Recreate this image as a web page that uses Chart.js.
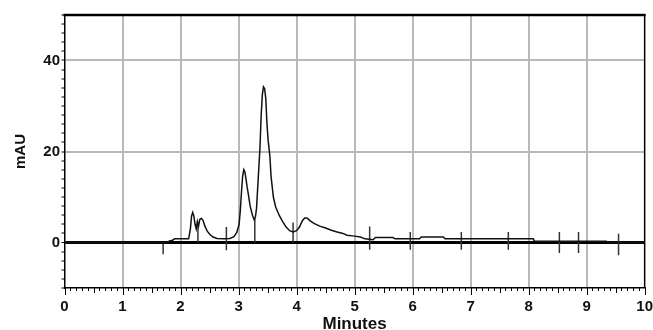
<!DOCTYPE html>
<html>
<head>
<meta charset="utf-8">
<script src="https://cdn.jsdelivr.net/npm/chart.js@4/dist/chart.umd.min.js"></script>
<style>
  body { margin: 0; background: #fff; }
  #wrap { width: 653px; height: 330px; position: relative; }
</style>
</head>
<body>
<div id="wrap"><canvas id="chart"></canvas></div>
<script>
// Chromatogram trace (minutes, mAU)
const traceX = [0, 1.78, 1.80, 1.86, 1.90, 2.14, 2.17, 2.19, 2.21, 2.23, 2.25, 2.27, 2.29, 2.31, 2.33, 2.36, 2.39, 2.42, 2.46, 2.51,
  2.56, 2.63, 2.75, 2.85, 2.92, 2.97, 3.01, 3.03, 3.05, 3.07, 3.09, 3.11, 3.13, 3.15, 3.17, 3.20, 3.24, 3.27, 3.29, 3.31,
  3.33, 3.35, 3.37, 3.39, 3.41, 3.43, 3.45, 3.47, 3.49, 3.51, 3.54, 3.56, 3.60, 3.64, 3.70, 3.76, 3.82, 3.88, 3.94, 4.00,
  4.05, 4.10, 4.14, 4.18, 4.23, 4.30, 4.40, 4.50, 4.60, 4.70, 4.80, 4.87, 5.00, 5.10, 5.18, 5.32, 5.36, 5.66, 5.70, 6.12,
  6.15, 6.53, 6.56, 8.08, 8.10, 9.34, 9.36, 10];
const traceY = [0, 0, 0.3, 0.5, 0.8, 0.8, 3.0, 5.8, 6.6, 5.8, 4.0, 3.0, 4.6, 3.6, 5.0, 5.3, 4.8, 3.6, 2.5, 1.7,
  1.2, 0.9, 0.8, 0.9, 1.3, 2.2, 4.0, 7.0, 11.0, 14.5, 16.0, 15.5, 13.8, 12.0, 10.5, 8.0, 6.0, 5.0, 5.6, 7.5,
  12.0, 16.5, 21.0, 28.0, 32.5, 34.2, 33.8, 31.5, 26.0, 22.5, 19.0, 14.6, 10.0, 7.8, 6.0, 4.6, 3.4, 2.6, 2.3, 2.6,
  3.4, 4.8, 5.4, 5.4, 4.8, 4.2, 3.6, 3.2, 2.7, 2.3, 2.0, 1.6, 1.4, 1.2, 0.8, 0.6, 1.1, 1.1, 0.8, 0.8,
  1.2, 1.2, 0.8, 0.8, 0.3, 0.3, 0, 0];

// integration marks
const markerX = [1.70, 2.30, 2.79, 3.28, 3.94, 5.26, 5.96, 6.84, 7.65, 8.53, 8.86, 9.55];
const markerLow = [-2.6, 0, -1.7, 0, 0, -1.6, -1.6, -1.6, -1.6, -2.3, -2.3, -2.8];
const markerHigh = [-0.3, 3.6, 3.4, 5.2, 4.4, 3.5, 2.3, 2.3, 2.3, 2.3, 2.3, 1.9];

// axes
const xMin = 0, xMax = 10;
const yMin = -10, yMax = 50;
const yLabels = [0, 20, 40];

const tracePoints = traceX.map((x, i) => ({ x: x, y: traceY[i] }));
const markerPoints = [];
markerX.forEach((x, i) => {
  markerPoints.push({ x: x, y: markerLow[i] });
  markerPoints.push({ x: x, y: markerHigh[i] });
  markerPoints.push({ x: x, y: null });
});

const GRID = "#b9b9b9";

// x minor ticks + frame (top and right edges)
const extrasPlugin = {
  id: "extras",
  afterDraw(chart) {
    const ctx = chart.ctx;
    const area = chart.chartArea;
    const xs = chart.scales.x;
    ctx.save();
    ctx.strokeStyle = "#000";
    ctx.lineWidth = 1;
    for (let i = 0; i <= 100; i++) {
      const px = Math.round(xs.getPixelForValue(i / 10)) + 0.5;
      const len = i % 10 === 0 ? 7 : (i % 5 === 0 ? 5 : 3);
      ctx.beginPath();
      ctx.moveTo(px, area.bottom);
      ctx.lineTo(px, area.bottom + len);
      ctx.stroke();
    }
    ctx.lineWidth = 2.5;
    ctx.beginPath();
    ctx.moveTo(area.left - 1, area.top);
    ctx.lineTo(area.right + 1, area.top);
    ctx.stroke();
    ctx.lineWidth = 1.5;
    ctx.beginPath();
    ctx.moveTo(area.right, area.top);
    ctx.lineTo(area.right, area.bottom);
    ctx.stroke();
    ctx.restore();
  }
};

new Chart(document.getElementById("chart"), {
  type: "line",
  data: {
    datasets: [
      {
        data: tracePoints,
        borderColor: "#111",
        borderWidth: 1.5,
        pointRadius: 0,
        tension: 0,
        fill: false
      },
      {
        data: markerPoints,
        borderColor: "#333",
        borderWidth: 1.5,
        pointRadius: 0,
        spanGaps: false,
        fill: false
      }
    ]
  },
  options: {
    responsive: true,
    maintainAspectRatio: false,
    animation: false,
    layout: { padding: { top: 15, right: 0, left: 0, bottom: 0 } },
    plugins: {
      legend: { display: false },
      tooltip: { enabled: false }
    },
    scales: {
      x: {
        type: "linear",
        min: xMin,
        max: xMax,
        afterFit: (s) => { s.height = 42; },
        border: { color: "#000", width: 1.5 },
        grid: {
          drawTicks: true,
          tickLength: 10,
          tickColor: "rgba(0,0,0,0)",
          lineWidth: 2,
          color: (c) => (c.tick && c.tick.value > xMin && c.tick.value < xMax ? GRID : "rgba(0,0,0,0)")
        },
        ticks: {
          stepSize: 1,
          padding: 0,
          color: "#111",
          font: { family: "Liberation Sans, Arial, sans-serif", size: 15, weight: "bold", lineHeight: 1.2 },
          maxRotation: 0
        },
        title: {
          display: true,
          text: "Minutes",
          color: "#111",
          padding: 0,
          font: { family: "Liberation Sans, Arial, sans-serif", size: 17, weight: "bold", lineHeight: 0.65 }
        }
      },
      y: {
        type: "linear",
        min: yMin,
        max: yMax,
        afterFit: (s) => { s.width = 64.5; },
        border: { color: "#000", width: 1.5 },
        grid: {
          tickLength: 3,
          tickColor: "#000",
          tickWidth: 1,
          lineWidth: (c) => (c.tick && c.tick.value === 0 ? 3 : 2),
          color: (c) => {
            if (!c.tick) return "rgba(0,0,0,0)";
            if (c.tick.value === 0) return "#000";
            if (c.tick.value === 20 || c.tick.value === 40) return GRID;
            return "rgba(0,0,0,0)";
          }
        },
        ticks: {
          stepSize: 2,
          autoSkip: false,
          padding: 1.5,
          color: "#111",
          font: { family: "Liberation Sans, Arial, sans-serif", size: 15, weight: "bold", lineHeight: 1.2 },
          callback: (v) => (yLabels.includes(v) ? String(v) : "")
        },
        title: {
          display: true,
          text: "mAU",
          color: "#111",
          padding: { top: 12, bottom: 0 },
          font: { family: "Liberation Sans, Arial, sans-serif", size: 15, weight: "bold", lineHeight: 1.2 }
        }
      }
    }
  },
  plugins: [extrasPlugin]
});
</script>
</body>
</html>
